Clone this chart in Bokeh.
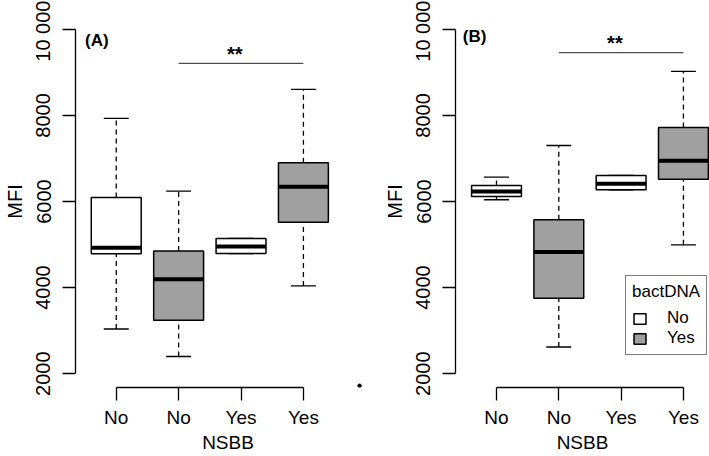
import numpy as np
from bokeh.plotting import figure
from bokeh.layouts import row
from bokeh.models import ColumnDataSource, FixedTicker, Legend, LegendItem, Range1d
from bokeh.core.properties import value
from bokeh.embed import file_html
from bokeh.resources import INLINE

# ---------------- data ----------------
groups = [1, 2, 3, 4]
nsbb_labels = ["No", "No", "Yes", "Yes"]
bactdna = ["No", "Yes", "No", "Yes"]
y_ticks = [2000, 4000, 6000, 8000, 10000]
y_tick_labels = ["2000", "4000", "6000", "8000", "10 000"]

# Panel (A)
a_low = [3040, 2400, 4790, 4040]
a_q1 = [4784, 3240, 4790, 5519]
a_med = [4923, 4194, 4953, 6342]
a_q3 = [6093, 4853, 5140, 6900]
a_high = [7930, 6240, 5140, 8605]
a_sig_from, a_sig_to, a_sig_y = 2, 4, 9209
a_stray_x, a_stray_y = [4.9], [1720]

# Panel (B)
b_low = [6040, 2620, 6272, 4993]
b_q1 = [6116, 3751, 6272, 6519]
b_med = [6233, 4830, 6411, 6946]
b_q3 = [6372, 5574, 6605, 7721]
b_high = [6565, 7302, 6605, 9023]
b_sig_from, b_sig_to, b_sig_y = 2, 4, 9458

sig_text = "**"

# ---------------- style ----------------
FONT = "Liberation Sans"
GRAY = "#A0A0A0"
fill_map = {"No": "white", "Yes": GRAY}
PX_PER_UNIT = 62.8
H = 456
LEFT_BORDER = 73
TOP_BORDER = 15
BOTTOM_BORDER = 69
STAR_OFFSET = 225


def panel(low, q1, med, q3, high, sig_from, sig_to, sig_y, tag, tag_x, tag_y,
          width, x_start, legend=False, stray=None):
    x_end = x_start + (width - LEFT_BORDER) / PX_PER_UNIT
    p = figure(width=width, height=H, x_range=Range1d(x_start, x_end),
               y_range=Range1d(1680, 10320), output_backend="svg",
               toolbar_location=None, min_border_left=LEFT_BORDER,
               min_border_right=0, min_border_top=TOP_BORDER,
               min_border_bottom=BOTTOM_BORDER)
    p.outline_line_color = None
    p.xgrid.visible = False
    p.ygrid.visible = False
    p.background_fill_color = "white"
    p.border_fill_color = "white"

    g = np.array(groups, dtype=float)
    src = ColumnDataSource(dict(
        x=g, low=low, q1=q1, med=med, q3=q3, high=high,
        fill=[fill_map[b] for b in bactdna], bact=bactdna,
        bx0=g - 0.4, bx1=g + 0.4, cx0=g - 0.2, cx1=g + 0.2,
    ))

    # whiskers
    p.segment(x0="x", x1="x", y0="q3", y1="high", source=src,
              line_color="black", line_width=1.3, line_dash="5 4")
    p.segment(x0="x", x1="x", y0="low", y1="q1", source=src,
              line_color="black", line_width=1.3, line_dash="5 4")
    # staples
    p.segment(x0="cx0", x1="cx1", y0="high", y1="high", source=src,
              line_color="black", line_width=1.4)
    p.segment(x0="cx0", x1="cx1", y0="low", y1="low", source=src,
              line_color="black", line_width=1.4)
    # boxes
    boxes = p.vbar(x="x", width=0.8, bottom="q1", top="q3", source=src,
                   fill_color="fill", line_color="black", line_width=1.5)
    # medians
    p.segment(x0="bx0", x1="bx1", y0="med", y1="med", source=src,
              line_color="black", line_width=4)

    # significance bar
    p.segment(x0=[sig_from], x1=[sig_to], y0=[sig_y], y1=[sig_y],
              line_color="#4d4d4d", line_width=1.1)
    p.text(x=[(sig_from + sig_to) / 2 - 0.1], y=[sig_y + STAR_OFFSET], text=[sig_text],
           text_font=value(FONT), text_font_size="20px", text_font_style="bold",
           text_align="center", text_baseline="alphabetic", text_color="black")

    # panel tag
    p.text(x=[tag_x], y=[tag_y], text=[tag], text_font=value(FONT),
           text_font_size="17px", text_font_style="bold", text_align="left",
           text_baseline="alphabetic", text_color="black")

    if stray is not None:
        p.scatter(x=stray[0], y=stray[1], size=3.5, color="black")

    # y axis
    ya = p.yaxis[0]
    ya.ticker = FixedTicker(ticks=y_ticks)
    ya.major_label_overrides = {t: l for t, l in zip(y_ticks, y_tick_labels)}
    ya.bounds = (y_ticks[0], y_ticks[-1])
    ya.major_tick_out = 13
    ya.major_tick_in = 0
    ya.minor_tick_line_color = None
    ya.major_label_orientation = "vertical"
    ya.major_label_standoff = 8
    ya.major_label_text_font = FONT
    ya.major_label_text_font_size = "20px"
    ya.major_label_text_color = "black"
    ya.axis_label = "MFI"
    ya.axis_label_text_font = FONT
    ya.axis_label_text_font_size = "20px"
    ya.axis_label_text_font_style = "normal"
    ya.axis_label_text_color = "black"
    ya.axis_label_standoff = 4
    ya.axis_line_width = 1.3
    ya.major_tick_line_width = 1.3
    ya.axis_line_color = "black"
    ya.major_tick_line_color = "black"

    # x axis
    xa = p.xaxis[0]
    xa.ticker = FixedTicker(ticks=groups)
    xa.major_label_overrides = {t: l for t, l in zip(groups, nsbb_labels)}
    xa.bounds = (groups[0], groups[-1])
    xa.major_tick_out = 13
    xa.major_tick_in = 0
    xa.minor_tick_line_color = None
    xa.major_label_standoff = 6
    xa.major_label_text_font = FONT
    xa.major_label_text_font_size = "19px"
    xa.major_label_text_color = "black"
    xa.axis_label = "NSBB"
    xa.axis_label_text_font = FONT
    xa.axis_label_text_font_size = "19px"
    xa.axis_label_text_font_style = "normal"
    xa.axis_label_text_color = "black"
    xa.axis_label_standoff = 1
    xa.axis_line_width = 1.3
    xa.major_tick_line_width = 1.3
    xa.axis_line_color = "black"
    xa.major_tick_line_color = "black"

    if legend:
        lg = Legend(items=[LegendItem(label="No", renderers=[boxes], index=0),
                           LegendItem(label="Yes", renderers=[boxes], index=1)],
                    title="bactDNA", location=(170, 32))
        lg.title_text_font = FONT
        lg.title_text_font_size = "17px"
        lg.title_text_font_style = "normal"
        lg.title_text_color = "black"
        lg.title_standoff = 6
        lg.label_text_font = FONT
        lg.label_text_font_size = "17px"
        lg.label_text_color = "black"
        lg.glyph_width = 15
        lg.glyph_height = 13
        lg.label_standoff = 20
        lg.spacing = 0
        lg.padding = 6
        lg.border_line_color = "black"
        lg.border_line_width = 1.2
        lg.background_fill_color = "white"
        lg.background_fill_alpha = 1
        p.add_layout(lg)
    return p


pa = panel(a_low, a_q1, a_med, a_q3, a_high, a_sig_from, a_sig_to, a_sig_y,
           "(A)", 0.5, 9736, width=380, x_start=0.347, stray=(a_stray_x, a_stray_y))
pb = panel(b_low, b_q1, b_med, b_q3, b_high, b_sig_from, b_sig_to, b_sig_y,
           "(B)", 0.46, 9823, width=329, x_start=0.342, legend=True)

layout = row(pa, pb)
open("out.html", "w").write(file_html(layout, INLINE))
